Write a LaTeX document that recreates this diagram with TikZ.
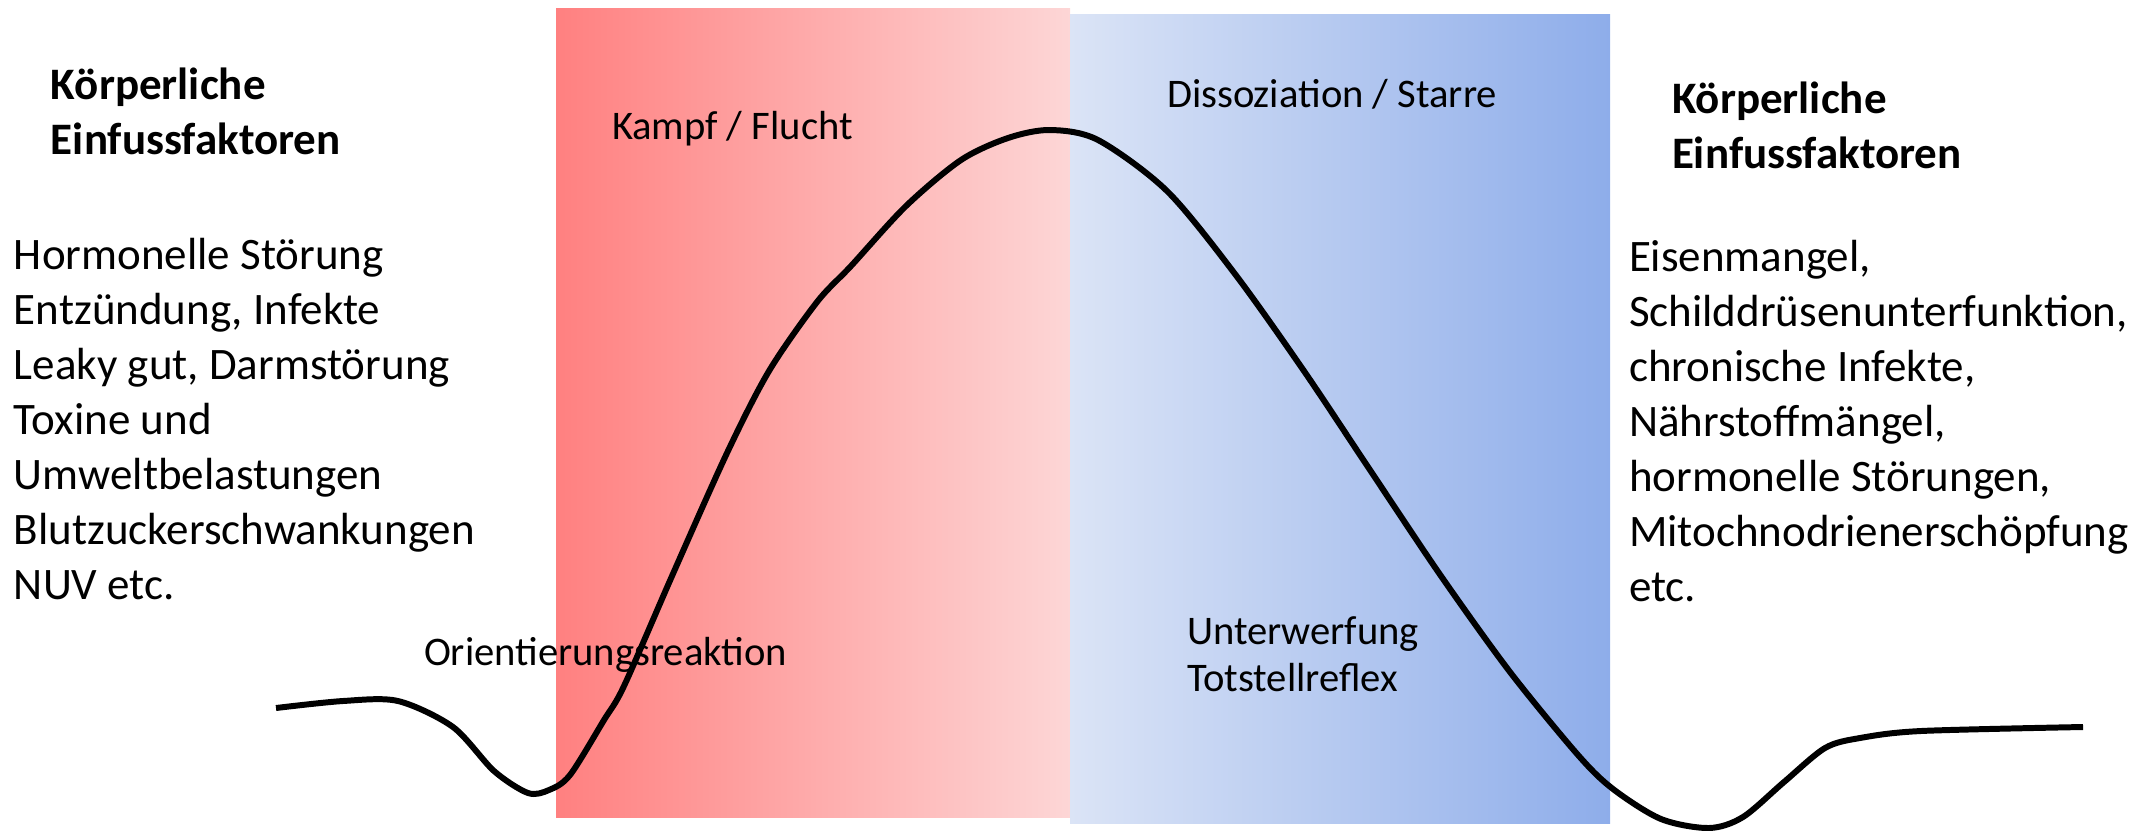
\documentclass[tikz,border=0pt]{standalone}
\usepackage{fontspec}
\setmainfont{Carlito}
\usepackage{tikz}
\usetikzlibrary{positioning}
\definecolor{fightred}{RGB}{255,128,128}
\definecolor{fightpale}{RGB}{253,214,214}
\definecolor{freezepale}{RGB}{219,228,246}
\definecolor{freezeblue}{RGB}{142,173,234}

\begin{document}
\begin{tikzpicture}[
  x=0.01cm, y=-0.01cm,
  every node/.style={inner sep=0pt, outer sep=0pt},
  heading/.style={anchor=north west, align=left, font=\fontsize{12.8}{15.65}\selectfont\bfseries},
  factors/.style={anchor=north west, align=left, font=\fontsize{12.8}{15.65}\selectfont},
  phase/.style={anchor=base west, align=left, font=\fontsize{11.55}{13.4}\selectfont}
]
\useasboundingbox (0,0) rectangle (2152,830);

% --- Hintergrund: Kampf/Flucht und Dissoziation ---
\shade[left color=fightred, right color=fightpale] (556,8) rectangle (1070,817);
\shade[left color=freezepale, right color=freezeblue] (1070,14) rectangle (1610,823);

% --- Phasen ---
\node[phase] (kampf) at (612,139) {Kampf / Flucht};
\node[phase] (dissoz) at (1167,107) {Dissoziation / Starre};
\node[phase] (orient) at (424,665) {Orientierungsreaktion};
\node[phase, anchor=north west] (unterw) at (1187,617) {Unterwerfung\\Totstellreflex};

% --- Erregungskurve ---
\draw[line width=1.7pt] plot[smooth, tension=0.5] coordinates {
  (276,708) (343,701) (398,701) (453,727) (494,771) (528,793) (549,790)
  (570,775) (604,720) (624,686) (672,576) (727,453) (769,371) (817,302)
  (851,266) (906,206) (961,160) (1008,138) (1050,130) (1098,140)
  (1167,191) (1235,274) (1304,371) (1372,473) (1441,576) (1510,672)
  (1578,755) (1613,789) (1661,819) (1709,828) (1743,817) (1784,782)
  (1825,748) (1860,738) (1921,731) (2083,727)};

% --- Linke Seite ---
\node[heading] (koerperL) at (51,68) {Körperliche\\Einfussfaktoren};
\node[factors] (factorsL) at (14,238) {Hormonelle Störung\\Entzündung, Infekte\\Leaky gut, Darmstörung\\Toxine und\\Umweltbelastungen\\Blutzuckerschwankungen\\NUV etc.};

% --- Rechte Seite ---
\node[heading] (koerperR) at (1672,82) {Körperliche\\Einfussfaktoren};
\node[factors] (factorsR) at (1629,240) {Eisenmangel,\\Schilddrüsenunterfunktion,\\chronische Infekte,\\Nährstoffmängel,\\hormonelle Störungen,\\Mitochnodrienerschöpfung\\etc.};

\end{tikzpicture}
\end{document}
